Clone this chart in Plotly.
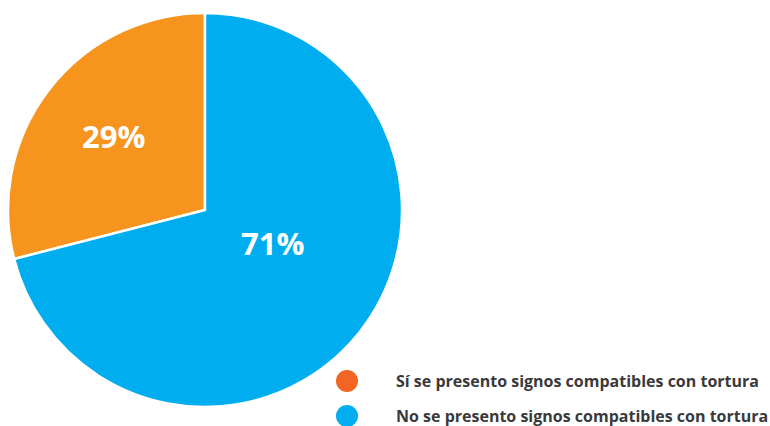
import plotly.graph_objects as go

categories = ["Sí se presento signos compatibles con tortura",
              "No se presento signos compatibles con tortura"]
values = [29, 71]
slice_colors = ["#F7941D", "#00AEEF"]
legend_colors = ["#F26522", "#00AEEF"]

W, H = 770, 426

fig = go.Figure()
fig.add_trace(go.Pie(
    labels=categories,
    values=values,
    sort=False,
    direction="clockwise",
    rotation=-104.4,
    marker=dict(colors=slice_colors, line=dict(color="white", width=2.5)),
    textinfo="none",
    domain=dict(x=[8 / W, 402 / W], y=[19 / H, 413 / H]),
    showlegend=False,
    hoverinfo="label+percent",
))

# percentage labels placed inside the slices
total = sum(values)
label_pos = [(113, 136), (272, 243)]
for v, (px, py) in zip(values, label_pos):
    fig.add_annotation(x=px / W, y=1 - py / H, xref="paper", yref="paper",
                       xanchor="center", yanchor="middle", showarrow=False,
                       text=f"<b>{round(100 * v / total)}%</b>",
                       font=dict(family="Open Sans", size=31, color="white"))

# custom legend (dots + labels)
leg_x_dot = 347
leg_x_text = 394
leg_y = [381, 416]
for i, (cat, col) in enumerate(zip(categories, legend_colors)):
    yp = 1 - leg_y[i] / H
    fig.add_shape(type="circle", xref="paper", yref="paper",
                  xsizemode="pixel", ysizemode="pixel",
                  xanchor=leg_x_dot / W, yanchor=yp,
                  x0=-11, x1=11, y0=-11, y1=11,
                  fillcolor=col, line=dict(width=0))
    fig.add_annotation(x=leg_x_text / W, y=yp, xref="paper", yref="paper",
                       xanchor="left", yanchor="middle", showarrow=False,
                       text=f"<b>{cat}</b>",
                       font=dict(family="Open Sans", size=16, color="#3a3a3a"))

fig.update_layout(
    width=W, height=H,
    margin=dict(l=0, r=0, t=0, b=0),
    paper_bgcolor="white",
    plot_bgcolor="white",
)

fig.write_html("out.html", config={"displayModeBar": False},
               post_script="document.body.style.margin='0';")
